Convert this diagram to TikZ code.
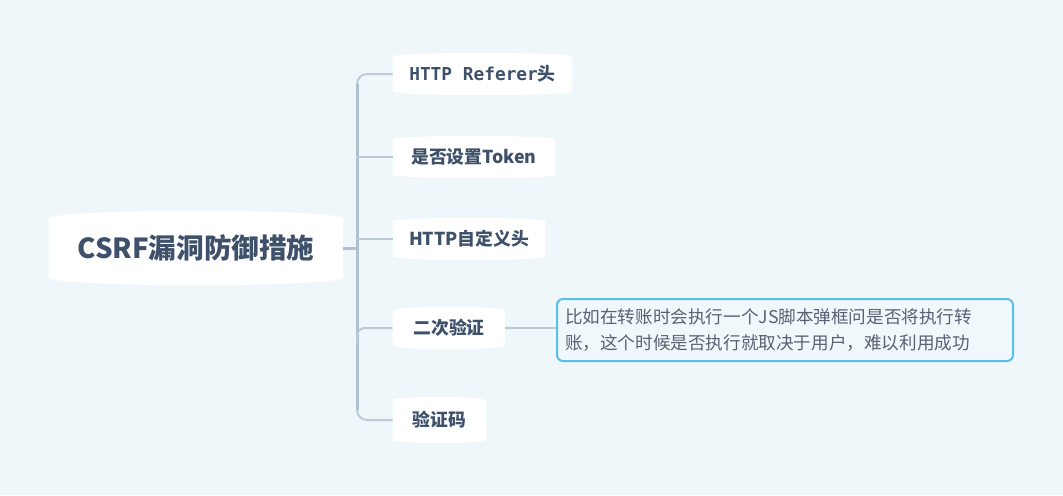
\documentclass[tikz,border=0pt]{standalone}
\usepackage{fontspec}
\setmainfont{Noto Sans CJK SC}
\newfontfamily\monof{DejaVu Sans Mono}
\usetikzlibrary{backgrounds,calc}
\definecolor{bgc}{RGB}{239,247,250}
\definecolor{txt}{RGB}{62,80,106}
\definecolor{trunkc}{RGB}{176,192,210}
\definecolor{linec}{RGB}{188,202,216}
\definecolor{calloutc}{RGB}{88,190,235}
\definecolor{callfill}{RGB}{241,248,252}
\definecolor{calltxt}{RGB}{88,98,114}
\newcommand{\barrelfill}[2]{%
  \fill[white, rounded corners=1.5pt] ([yshift=-#2]#1.north west) .. controls ([yshift=#2/3]#1.north west) and ([yshift=#2/3]#1.north east) .. ([yshift=-#2]#1.north east)
    -- ([yshift=#2]#1.south east) .. controls ([yshift=-#2/3]#1.south east) and ([yshift=-#2/3]#1.south west) .. ([yshift=#2]#1.south west) -- cycle;}
\tikzset{
  rootnode/.style={rectangle, inner sep=0pt, text=txt, font=\fontsize{13.8}{15}\selectfont\bfseries, minimum width=146.5pt, minimum height=36pt},
  childnode/.style={rectangle, inner sep=0pt, text=txt, font=\fontsize{8.9}{10}\selectfont\bfseries, minimum height=20pt},
  trunk/.style={draw=trunkc, line width=1.5pt},
  branch/.style={draw=linec, line width=1pt},
  callout/.style={draw=calloutc, line width=1pt, fill=callfill, rounded corners=3pt, text=calltxt, font=\fontsize{8.8}{13}\selectfont, align=left, text width=220pt, minimum height=31pt, inner sep=4pt}
}
\begin{document}
\begin{tikzpicture}[x=0.5pt,y=-0.5pt]
\useasboundingbox (0,0) rectangle (1063,495);
\node[rootnode] (root) at (196,248) {CSRF漏洞防御措施};
\node[childnode, minimum width=89.5pt] (c1) at (482.5,74) {{\monof HTTP Referer}头};
\node[childnode, minimum width=81pt] (c2) at (474,157) {是否设置Token};
\node[childnode, minimum width=76pt] (c3) at (469,239) {HTTP自定义头};
\node[childnode, minimum width=56pt] (c4) at (449,328) {二次验证};
\node[childnode, minimum width=46.5pt, minimum height=22pt] (c5) at (439.5,420) {验证码};
\node[callout] (call) at (785,330) {比如在转账时会执行一个JS脚本弹框问是否将执行转\\账，这个时候是否执行就取决于用户，难以利用成功};
\coordinate (tj) at (357,248);
\begin{pgfonlayer}{background}
\fill[bgc] (0,0) rectangle (1063,495);
\barrelfill{root}{5pt}
\barrelfill{c1}{3pt}
\barrelfill{c2}{3pt}
\barrelfill{c3}{3pt}
\barrelfill{c4}{3pt}
\barrelfill{c5}{3pt}
\draw[branch, rounded corners=5pt] (c1.west) -| (tj) |- (c5.west);
\draw[trunk] ([yshift=-5pt]c1.west -| tj) -- ([yshift=5pt]c5.west -| tj);
\draw[trunk] (root.east) -- (tj);
\draw[branch] (c2.west) -- (c2.west -| tj);
\draw[branch] (c3.west) -- (c3.west -| tj);
\draw[branch, rounded corners=4pt] (c4.west) -| ([yshift=-8pt]c4.west -| tj);
\draw[branch] (c4.east) -- (c4.east -| call.west);
\end{pgfonlayer}
\end{tikzpicture}
\end{document}
